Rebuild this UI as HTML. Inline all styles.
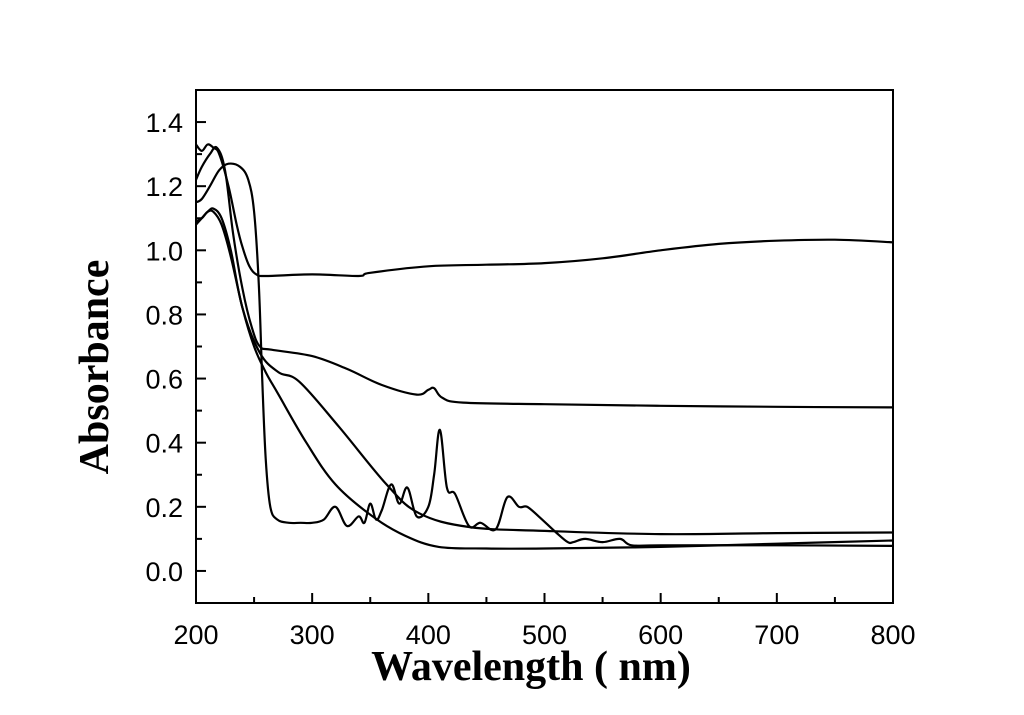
<!DOCTYPE html>
<html><head><meta charset="utf-8"><style>
html,body{margin:0;padding:0;background:#fff;}
svg{display:block;}
</style></head><body>
<svg id="chart" width="1024" height="715" viewBox="0 0 1024 715" xmlns="http://www.w3.org/2000/svg">
<g id="series"></g>
<rect x="196" y="90" width="697" height="513" fill="none" stroke="#000" stroke-width="2"/>
<g id="axes"></g>
<text x="531" y="680" text-anchor="middle" font-family="Liberation Serif, serif" font-weight="bold" font-size="42">Wavelength ( nm)</text>
<text transform="translate(108,367) rotate(-90)" text-anchor="middle" font-family="Liberation Serif, serif" font-weight="bold" font-size="42">Absorbance</text>
</svg>
<script>
const xTicks=[200,300,400,500,600,700,800];
const yTicks=[0.0,0.2,0.4,0.6,0.8,1.0,1.2,1.4];
const yTickLabels=["0.0","0.2","0.4","0.6","0.8","1.0","1.2","1.4"];
const seriesA_x=[200,205,210,215,220,228,235,240,246,252,260,300,340,350,400,450,500,550,600,650,700,750,800];
const seriesA_y=[1.33,1.31,1.33,1.32,1.30,1.20,1.08,1.01,0.95,0.925,0.92,0.925,0.92,0.93,0.95,0.955,0.96,0.975,1.0,1.02,1.03,1.033,1.025];
const seriesB_x=[200,205,212,218,225,232,240,248,255,265,300,330,360,390,400,405,412,430,500,600,700,800];
const seriesB_y=[1.22,1.26,1.30,1.32,1.25,1.05,0.88,0.76,0.70,0.69,0.67,0.63,0.58,0.55,0.565,0.57,0.54,0.525,0.52,0.515,0.512,0.51];
const seriesC_x=[200,205,212,220,228,238,245,250,254,257,260,264,270,280,290,300,310,320,330,340,345,350,355,360,368,375,382,390,400,405,410,416,423,435,445,458,468,478,485,495,510,520,525,535,550,565,575,600,700,800];
const seriesC_y=[1.15,1.16,1.20,1.25,1.27,1.26,1.22,1.12,0.9,0.6,0.35,0.2,0.16,0.15,0.15,0.15,0.16,0.20,0.14,0.17,0.15,0.21,0.16,0.19,0.27,0.21,0.26,0.17,0.20,0.30,0.44,0.26,0.24,0.14,0.15,0.13,0.23,0.20,0.20,0.17,0.12,0.09,0.09,0.10,0.09,0.10,0.08,0.08,0.08,0.078];
const seriesD_x=[200,205,210,215,222,230,240,255,271,289,323,364,392,435,500,600,700,800];
const seriesD_y=[1.08,1.10,1.12,1.13,1.10,1.00,0.82,0.68,0.62,0.59,0.45,0.27,0.18,0.137,0.125,0.115,0.118,0.12];
const seriesE_x=[200,205,210,215,222,230,240,250,260,271,295,320,352,380,409,450,500,600,700,800];
const seriesE_y=[1.09,1.10,1.12,1.12,1.08,0.98,0.82,0.7,0.62,0.55,0.4,0.27,0.17,0.11,0.075,0.07,0.07,0.075,0.085,0.095];
const allSeries=[[seriesA_x,seriesA_y,'series-a'],[seriesB_x,seriesB_y,'series-b'],[seriesC_x,seriesC_y,'series-c'],[seriesD_x,seriesD_y,'series-d'],[seriesE_x,seriesE_y,'series-e']];

const NS='http://www.w3.org/2000/svg';
const X0=196,X1=893,Y0=603,Y1=90,XMIN=200,XMAX=800,YMIN=-0.1,YMAX=1.5;
function sx(v){return X0+(v-XMIN)/(XMAX-XMIN)*(X1-X0);}
function sy(v){return Y0-(v-YMIN)/(YMAX-YMIN)*(Y0-Y1);}
const axes=document.getElementById('axes');
const sg=document.getElementById('series');
function mk(tag,attrs){const e=document.createElementNS(NS,tag);for(const k in attrs)e.setAttribute(k,attrs[k]);return e;}

xTicks.forEach((t,i)=>{
  const l=mk('line',{x1:sx(t),x2:sx(t),y1:Y0,y2:Y0-10,stroke:'#000','stroke-width':2});
  
  
  axes.appendChild(l);
  if(i<xTicks.length-1){
    const m=mk('line',{x1:sx(t+50),x2:sx(t+50),y1:Y0,y2:Y0-6,stroke:'#000','stroke-width':2});
    
    
    axes.appendChild(m);
  }
  const tx=mk('text',{x:sx(t),y:Y0+41,'text-anchor':'middle','font-family':'Liberation Sans, sans-serif','font-size':27});
  tx.textContent=String(t);
  
  
  axes.appendChild(tx);
});
yTicks.forEach((t,i)=>{
  const l=mk('line',{x1:X0,x2:X0+10,y1:sy(t),y2:sy(t),stroke:'#000','stroke-width':2});
  
  
  axes.appendChild(l);
  const m=mk('line',{x1:X0,x2:X0+6,y1:sy(t+0.1),y2:sy(t+0.1),stroke:'#000','stroke-width':2});
  
  
  axes.appendChild(m);
  const tx=mk('text',{x:X0-13,y:sy(t)+10,'text-anchor':'end','font-family':'Liberation Sans, sans-serif','font-size':27});
  tx.textContent=yTickLabels[i];
  
  
  axes.appendChild(tx);
});
allSeries.forEach(s=>{
  const xs=s[0],ys=s[1];
  const P=xs.map((x,i)=>[sx(x),sy(ys[i])]);
  let d='M'+P[0][0].toFixed(1)+','+P[0][1].toFixed(1);
  const k=0.35;
  for(let i=0;i<P.length-1;i++){
    const p0=P[Math.max(0,i-1)],p1=P[i],p2=P[i+1],p3=P[Math.min(P.length-1,i+2)];
    const c1=[p1[0]+(p2[0]-p0[0])*k/2,p1[1]+(p2[1]-p0[1])*k/2];
    const c2=[p2[0]-(p3[0]-p1[0])*k/2,p2[1]-(p3[1]-p1[1])*k/2];
    d+='C'+c1[0].toFixed(1)+','+c1[1].toFixed(1)+' '+c2[0].toFixed(1)+','+c2[1].toFixed(1)+' '+p2[0].toFixed(1)+','+p2[1].toFixed(1);
  }
  const p=mk('path',{d:d,fill:'none',stroke:'#000','stroke-width':2.2,'stroke-linejoin':'round'});
  
  
  sg.appendChild(p);
});
</script>
</body></html>
